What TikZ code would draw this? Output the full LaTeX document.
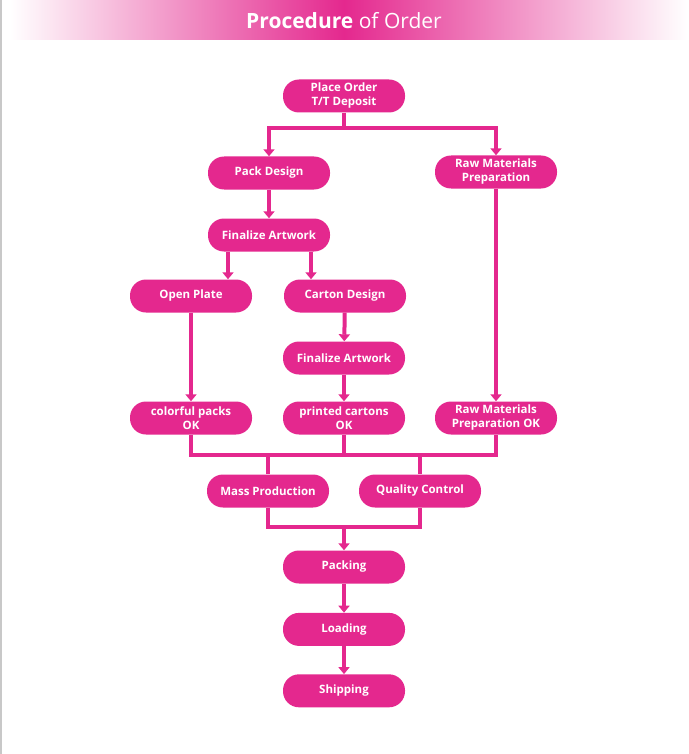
\documentclass[tikz,border=0pt]{standalone}
\usepackage{fontspec}
\setmainfont{Open Sans}
\usetikzlibrary{arrows.meta,positioning}
\definecolor{rose}{HTML}{E4288E}
\definecolor{frame}{HTML}{C8C8C8}

\begin{document}
\begin{tikzpicture}[
  x=1pt,y=-1pt,
  blk/.style={fill=rose,text=white,rounded corners=16pt,minimum width=122pt,minimum height=33pt,
    inner sep=0pt,align=center,font=\bfseries\fontsize{11.5}{14}\selectfont},
  ln/.style={draw=rose,line width=4pt},
  ar/.style={ln,-{Triangle[width=11pt,length=7pt]}}
]
\useasboundingbox (0,0) rectangle (688,754);
\draw[frame,line width=1.5pt] (0.75,0) -- (0.75,754);
% title band
\shade[left color=white,right color=rose] (10,0) rectangle (344,40);
\shade[left color=rose,right color=white] (344,0) rectangle (688,40);
\node[text=white,font=\fontsize{21}{25}\selectfont] (title) at (344,21) {\textbf{Procedure} of Order};

\node[blk] (order) at (344,96) {Place Order\\T/T Deposit};
\node[blk] (pack) at (269,173) {Pack Design};
\node[blk] (raw) at (496,172) {Raw Materials\\Preparation};
\node[blk] (art1) at (269,235) {Finalize Artwork};
\node[blk] (plate) at (191,296) {Open Plate};
\node[blk] (carton) at (345,296) {Carton Design};
\node[blk] (art2) at (344,358) {Finalize Artwork};
\node[blk] (packok) at (191,418) {colorful packs\\OK};
\node[blk] (cartok) at (344,418) {printed cartons\\OK};
\node[blk] (rawok) at (496,418) {Raw Materials\\Preparation OK};
\node[blk] (mass) at (268,491) {Mass Production};
\node[blk] (qc) at (420,491) {Quality Control};
\node[blk] (packing) at (344,567) {Packing};
\node[blk,below=29pt of packing] (loading) {Loading};
\node[blk,below=28pt of loading] (ship) {Shipping};

\coordinate (split) at (344,128);
\coordinate (merge) at (344,455);
\coordinate (join) at (344,527);

\draw[ar] (order) -- (split) -| (pack);
\draw[ar] (split) -| (raw);
\draw[ar] (pack) -- (art1);
\draw[ar] ([xshift=-41pt]art1.south) -- ([xshift=-41pt]art1.south |- plate.north);
\draw[ar] ([xshift=42pt]art1.south) -- ([xshift=42pt]art1.south |- carton.north);
\draw[ar] (plate) -- (packok);
\draw[ar] (carton) -- (art2);
\draw[ar] (art2) -- (cartok);
\draw[ar] (raw) -- (rawok);

\draw[ln] (packok) |- (merge) -| (rawok);
\draw[ln] (cartok) -- (merge);
\draw[ln] (mass |- merge) -- (mass);
\draw[ln] (qc |- merge) -- (qc);
\draw[ln] (mass) |- (join) -| (qc);
\draw[ar] (join) -- (packing);
\draw[ar] (packing) -- (loading);
\draw[ar] (loading) -- (ship);
\end{tikzpicture}
\end{document}
